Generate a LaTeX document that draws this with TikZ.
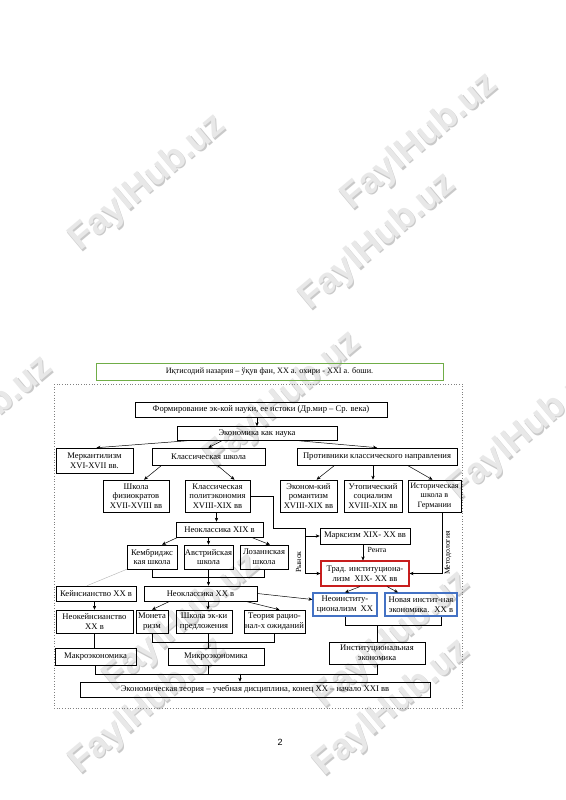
\documentclass[tikz,border=0pt]{standalone}
\usepackage{fontspec}
\setmainfont{Liberation Serif}
\newfontfamily\wmfont{Liberation Sans}
\usetikzlibrary{arrows.meta,calc}
\definecolor{tgreen}{RGB}{112,173,71}
\definecolor{tred}{RGB}{200,30,30}
\definecolor{tblue}{RGB}{68,114,196}
\begin{document}
\begin{tikzpicture}[x=1pt,y=-1pt,
  box/.style={draw=black, line width=0.6pt, inner sep=0pt, align=center,
    font=\fontsize{8.6}{9.6}\selectfont},
  arr/.style={-{Stealth[length=4pt,width=3.4pt]}, line width=0.5pt},
  ln/.style={line width=0.5pt},
  lbl/.style={inner sep=0pt, font=\fontsize{7.8}{8}\selectfont},
  wm/.style={font=\wmfont\bfseries\fontsize{36}{36}\selectfont, rotate=40, inner sep=0pt}]
\useasboundingbox (0,0) rectangle (565,800);
\fill[white] (0,0) rectangle (565,800);
% watermarks
\foreach \x/\y in {420/142,148/183,378/242,-25/425,283/400,527/432,182/622,392/640,148/706,392/708}{
  \node[wm,text=gray!42] at (\x+1.2,\y+1.2) {FaylHub.uz};
  \node[wm,text=gray!18] at (\x,\y) {FaylHub.uz};
}
% title
\node[box, draw=tgreen, line width=0.8pt, minimum width=347pt, minimum height=17pt,
  font=\fontsize{8.2}{9}\selectfont] (title) at (269.5,371.5)
  {Иқтисодий назария – ўқув фан, ХХ а. охири - ХХI а. боши.};
\draw[dotted, gray, line width=0.7pt] (54,384) rectangle (462,708);
% nodes
\node[box, minimum width=252pt, minimum height=15pt] (form) at (261,409.5) {Формирование эк-кой науки, ее истоки (Др.мир – Ср. века)};
\node[box, minimum width=160pt, minimum height=14pt] (econ) at (257,433.5) {Экономика как наука};
\node[box, minimum width=77pt, minimum height=25pt] (merk) at (94.5,460.5) {Меркантилизм\\XVI-XVII вв.};
\node[box, minimum width=113pt, minimum height=17pt] (klass) at (208.5,456.5) {Классическая школа};
\node[box, minimum width=160pt, minimum height=17pt] (protiv) at (377,456.5) {Противники классического направления};
\node[box, minimum width=66pt, minimum height=32pt] (fiz) at (136,496) {Школа\\физиократов\\XVII-XVIII вв};
\node[box, minimum width=65pt, minimum height=32pt] (polit) at (217.5,496) {Классическая\\политэкономия\\XVIII-XIX вв};
\node[box, minimum width=57pt, minimum height=32pt] (romant) at (308.5,496) {Эконом-кий\\романтизм\\XVIII-XIX вв};
\node[box, minimum width=58pt, minimum height=32pt] (utop) at (373,496) {Утопический\\социализм\\XVIII-XIX вв};
\node[box, minimum width=53pt, minimum height=32pt, font=\fontsize{8.2}{9.6}\selectfont] (istor) at (434.5,496) {Историческая\\школа в\\Германии};
\node[box, minimum width=87pt, minimum height=15pt] (neo19) at (219.5,529.5) {Неоклассика XIX в};
\node[box, minimum width=90pt, minimum height=16pt] (marx) at (365,536) {Марксизм XIX- XX вв};
\node[box, minimum width=50pt, minimum height=24pt] (kemb) at (152,557) {Кембриджс\\кая школа};
\node[box, minimum width=49pt, minimum height=24pt] (avstr) at (208.5,557) {Австрийская\\школа};
\node[box, minimum width=48pt, minimum height=24pt] (lozan) at (264,557) {Лозаннская\\школа};
\node[box, draw=tred, line width=1.1pt, minimum width=88pt, minimum height=25pt] (trad) at (365,573.5) {Трад. институциона-\\лизм \ XIX- XX вв};
\node[box, minimum width=80pt, minimum height=15pt] (keyns) at (96,593.5) {Кейнсианство XX в};
\node[box, minimum width=113pt, minimum height=15pt] (neo20) at (200.5,593.5) {Неоклассика XX в};
\node[box, draw=tblue, line width=1.1pt, minimum width=64pt, minimum height=23pt] (neoinst) at (345,604.5) {Неоинститу-\\ционализм \ XX};
\node[box, draw=tblue, line width=1.1pt, minimum width=72pt, minimum height=23pt] (newinst) at (421,604.5) {Новая инстит-ная\\экономика. \ XX в};
\node[box, minimum width=77pt, minimum height=23pt] (neokeyn) at (94.5,621.5) {Неокейнсианство\\XX в};
\node[box, minimum width=32pt, minimum height=23pt] (monet) at (152,621.5) {Монета\\ризм};
\node[box, minimum width=56pt, minimum height=23pt] (shkola) at (204,621.5) {Школа эк-ки\\предложения};
\node[box, minimum width=61pt, minimum height=23pt] (teoria) at (274.5,621.5) {Теория рацио-\\нал-х ожиданий};
\node[box, minimum width=96pt, minimum height=22pt] (instec) at (377,653) {Институциональная\\экономика};
\node[box, minimum width=81pt, minimum height=17pt] (macro) at (95.5,656.5) {Макроэкономика};
\node[box, minimum width=96pt, minimum height=17pt] (micro) at (216,656.5) {Микроэкономика};
\node[box, minimum width=350pt, minimum height=15pt] (final) at (255,689.5) {Экономическая теория – учебная дисциплина, конец XX – начало XXI вв};
% connectors
\draw[arr] (econ.north |- form.south) -- (econ.north);
\draw[arr] ([xshift=10pt]econ.south west) -- ([xshift=2pt]merk.north);
\draw[arr] ([xshift=45pt]econ.south west) -- (klass.north);
\draw[arr] ([xshift=-38pt]econ.south east) -- (protiv.north);
\draw[arr] ([xshift=10pt]klass.south west) -- ([xshift=8pt]fiz.north);
\draw[arr] ([xshift=-48pt]klass.south east) -- ([xshift=17pt]polit.north);
\draw[arr] ([xshift=38pt]protiv.south west) -- ([xshift=8pt]romant.north);
\draw[arr] (utop.north |- protiv.south) -- (utop.north);
\draw[arr] ([xshift=-50pt]protiv.south east) -- ([xshift=-2pt]istor.north);
\draw[arr] ([xshift=-1pt]polit.south) -- ([xshift=-1pt]polit.south |- neo19.north);
% Рынок line
\coordinate (rk) at (305,528);
\draw[ln] (polit.east) -- ++(23,0) |- (rk);
\draw[arr] (rk) |- (trad.west);
\draw[arr] (rk |- marx.west) -- (marx.west);
\node[lbl, rotate=90] (lrynok) at (298.5,562) {Рынок};
\draw[arr] (marx.south -| 363,0) -- (trad.north -| 363,0);
\node[lbl] (lrenta) at (377,550) {Рента};
\draw[arr] ([xshift=7.5pt]istor.south) |- (trad.east);
\node[lbl, rotate=90] (lmetod) at (448,553) {Методология};
% neo19
\draw[arr] ([xshift=2pt]neo19.south west) -- ([xshift=10pt]kemb.north);
\draw[arr] (avstr.north |- neo19.south) -- (avstr.north);
\draw[arr] ([xshift=-12pt]neo19.south east) -- ([xshift=6pt]lozan.north);
\draw[ln] (kemb.south) -- ++(0,8) -| (lozan.south);
\draw[arr] (avstr.south) -- (avstr.south |- neo20.north);
\draw[gray!60, line width=0.4pt] (kemb.south west) -- ([xshift=-9pt]keyns.north);
\draw[arr] (neokeyn.north |- keyns.south) -- (neokeyn.north);
% neo20
\draw[arr] ([xshift=26pt]neo20.south west) -- (monet.north);
\draw[arr] ([xshift=4pt]shkola.north |- neo20.south) -- ([xshift=4pt]shkola.north);
\draw[arr] ([xshift=-12pt]neo20.south east) -- ([xshift=5pt]teoria.north);
\draw[arr] (neo20.east) -- ([yshift=5pt]neoinst.west);
\draw[arr] ([xshift=-5pt]trad.south) -- (neoinst.north);
\draw[arr] ([xshift=22pt]trad.south) -- ([xshift=-23pt]newinst.north);
\draw[ln] (neoinst.south) -- ++(0,9) -| ([xshift=20pt]newinst.south);
\draw[ln] (instec.north |- 0,625) -- (instec.north);
\draw[ln] (monet.south) -- ++(0,9) -| (teoria.south);
\draw[ln] ([xshift=4pt]shkola.south) -- ([xshift=4pt]shkola.south |- micro.north);
\draw[ln] (neokeyn.south) -- (neokeyn.south |- macro.north);
\draw[ln] (macro.south) -- ++(0,8.5) -| (instec.south);
\draw[ln] ([xshift=-8pt]micro.south) -- ++(0,8.5);
\draw[arr] ([xshift=-15pt]final.north |- 0,673.5) -- ([xshift=-15pt]final.north);
% page number
\node[inner sep=0pt, font=\wmfont\fontsize{9}{9}\selectfont] (pnum) at (280,742) {2};
\end{tikzpicture}
\end{document}
